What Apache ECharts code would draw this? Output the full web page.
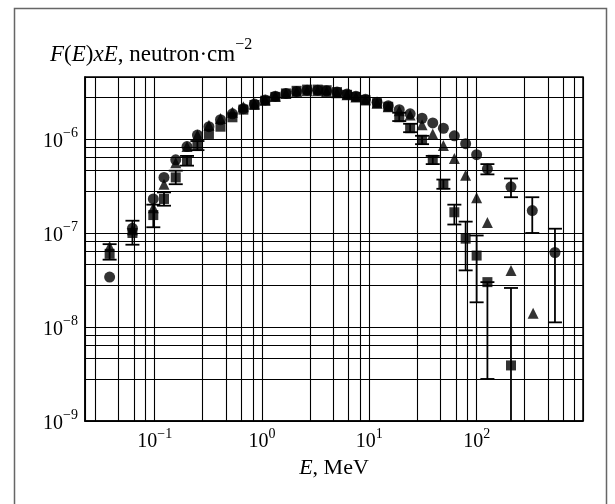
<!DOCTYPE html>
<html><head><meta charset="utf-8">
<script src="https://cdn.jsdelivr.net/npm/echarts@6/dist/echarts.min.js"></script>
<style>html,body{margin:0;padding:0;background:#fff}#c{width:615px;height:504px}</style>
</head><body><div id="c"></div><script>
// ---- data ----
const circleE = [0.038,0.062,0.097,0.122,0.157,0.2,0.25,0.32,0.41,0.53,0.67,0.85,1.07,1.33,1.67,2.1,2.63,3.3,4.0,5.0,6.2,7.5,9.2,11.8,15,19,24,31,39,49,62,79,100,126,209,330,537];
const circleF = [3.4e-8,1.12e-7,2.3e-7,3.9e-7,6.0e-7,8.3e-7,1.1e-6,1.35e-6,1.6e-6,1.85e-6,2.1e-6,2.35e-6,2.6e-6,2.85e-6,3.05e-6,3.2e-6,3.3e-6,3.3e-6,3.25e-6,3.15e-6,3.0e-6,2.85e-6,2.65e-6,2.45e-6,2.25e-6,2.05e-6,1.85e-6,1.66e-6,1.48e-6,1.3e-6,1.08e-6,8.9e-7,6.8e-7,4.8e-7,3.1e-7,1.73e-7,6.2e-8];

const squareE = [0.038,0.062,0.097,0.122,0.157,0.2,0.25,0.32,0.41,0.53,0.67,0.85,1.07,1.33,1.67,2.1,2.63,3.3,4.0,5.0,6.2,7.5,9.2,11.8,15,19,24,31,39,49,62,79,100,126,209];
const squareF = [6.0e-8,1.0e-7,1.55e-7,2.3e-7,3.9e-7,5.9e-7,8.5e-7,1.13e-6,1.35e-6,1.7e-6,2.05e-6,2.3e-6,2.55e-6,2.8e-6,3.05e-6,3.25e-6,3.35e-6,3.35e-6,3.3e-6,3.15e-6,2.95e-6,2.8e-6,2.6e-6,2.4e-6,2.2e-6,1.7e-6,1.3e-6,9.8e-7,6.0e-7,3.3e-7,1.66e-7,8.7e-8,5.75e-8,3.0e-8,3.9e-9];

const triE = [0.038,0.062,0.097,0.122,0.157,0.2,0.25,0.32,0.41,0.53,0.67,0.85,1.07,1.33,1.67,2.1,2.63,3.3,4.0,5.0,6.2,7.5,9.2,11.8,15,19,24,31,39,49,62,79,100,126,209,336];
const triF = [7.2e-8,1.08e-7,1.85e-7,3.3e-7,5.6e-7,8.3e-7,1.1e-6,1.4e-6,1.65e-6,1.92e-6,2.2e-6,2.35e-6,2.6e-6,2.85e-6,3.05e-6,3.2e-6,3.25e-6,3.25e-6,3.2e-6,3.1e-6,2.95e-6,2.8e-6,2.6e-6,2.4e-6,2.2e-6,2.0e-6,1.8e-6,1.42e-6,1.13e-6,8.5e-7,6.2e-7,4.1e-7,2.37e-7,1.29e-7,4.0e-8,1.4e-8];

// error bars: [E, low, high]
const squareErr = [[0.038,5.2e-8,7.6e-8],[0.062,7.5e-8,1.35e-7],[0.097,1.15e-7,2.0e-7],[0.122,1.95e-7,2.7e-7],[0.157,3.3e-7,4.6e-7],[0.2,5.2e-7,6.6e-7],[0.25,7.6e-7,9.5e-7],[19,1.55e-6,1.9e-6],[24,1.18e-6,1.45e-6],[31,8.8e-7,1.08e-6],[39,5.4e-7,6.6e-7],[49,2.95e-7,3.7e-7],[62,1.23e-7,2.0e-7],[79,4.0e-8,1.32e-7],[100,1.83e-8,9.4e-8],[126,2.8e-9,3.0e-8],[209,5e-10,2.6e-8]];
const circleErr = [[126,4.2e-7,5.4e-7],[209,2.4e-7,3.8e-7],[330,1.0e-7,2.4e-7],[537,1.12e-8,1.11e-7]];

const xLabelValues = [0.1,1,10,100];
const yLabelValues = [1e-9,1e-8,1e-7,1e-6];

const SERIF = 'Liberation Serif, Times New Roman, serif';
function labeler(allowed){
  return function(v){
    const e = Math.round(Math.log10(v));
    const ok = allowed.some(a => Math.abs(Math.log10(a) - Math.log10(v)) < 1e-6);
    if (!ok) return '';
    return '{b|10}{s|' + (e < 0 ? '\u2212' + (-e) : e) + '}';
  };
}
const richLbl = {
  b:{fontFamily:SERIF,fontSize:20,color:'#000',lineHeight:25,verticalAlign:'bottom'},
  s:{fontFamily:SERIF,fontSize:14,color:'#000',lineHeight:14,verticalAlign:'top'}
};
function pairs(xs, ys){ return xs.map((x,i)=>[x, ys[i]]); }

function errRender(params, api){
  const x = api.value(0), lo = api.value(1), hi = api.value(2);
  const a = api.coord([x, lo]), b = api.coord([x, hi]);
  const w = 7, st = {stroke:'#000', lineWidth:1.8};
  return {type:'group', children:[
    {type:'line', shape:{x1:a[0],y1:a[1],x2:b[0],y2:b[1]}, style:st},
    {type:'line', shape:{x1:a[0]-w,y1:a[1],x2:a[0]+w,y2:a[1]}, style:st},
    {type:'line', shape:{x1:b[0]-w,y1:b[1],x2:b[0]+w,y2:b[1]}, style:st}
  ]};
}

const chart = echarts.init(document.getElementById('c'), null, {renderer:'canvas'});
const gridLine = {show:true, lineStyle:{color:'#000', width:1.1}};
chart.setOption({
  animation:false,
  backgroundColor:'#fff',
  graphic:[{type:'rect', left:12, top:6, shape:{width:592, height:520}, style:{fill:'none', stroke:'#666', lineWidth:1.5}, silent:true}],
  title:{
    text:'{i|F}{n|(}{i|E}{n|)}{i|xE}{n|, neutron·cm}{s|−2}',
    left:45, top:32,
    textStyle:{fontWeight:'normal', rich:{
      i:{fontFamily:SERIF,fontStyle:'italic',fontWeight:'normal',fontSize:23,color:'#000',lineHeight:29,verticalAlign:'bottom'},
      n:{fontFamily:SERIF,fontWeight:'normal',fontSize:23,color:'#000',lineHeight:29,verticalAlign:'bottom'},
      s:{fontFamily:SERIF,fontWeight:'normal',fontSize:16,color:'#000',lineHeight:16,verticalAlign:'top'}
    }}
  },
  grid:{left:85, right:32, top:77, bottom:83, show:true, borderColor:'#000', borderWidth:1.5},
  xAxis:{
    type:'log', min:0.0224, max:980, logBase:10,
    name:'{i|E}{n|, MeV}', nameLocation:'middle', nameGap:34,
    nameTextStyle:{rich:{
      i:{fontFamily:SERIF,fontStyle:'italic',fontSize:22,color:'#000'},
      n:{fontFamily:SERIF,fontSize:22,color:'#000'}
    }},
    axisLine:{show:true, lineStyle:{color:'#000', width:1.5}},
    axisTick:{show:false},
    axisLabel:{formatter:labeler(xLabelValues), rich:richLbl, margin:6, showMinLabel:false, showMaxLabel:false},
    splitLine:gridLine,
    minorTick:{show:false, splitNumber:5},
    minorSplitLine:gridLine
  },
  yAxis:{
    type:'log', min:1e-9, max:4.56e-6, logBase:10,
    axisLine:{show:true, lineStyle:{color:'#000', width:1.5}},
    axisTick:{show:false},
    axisLabel:{formatter:labeler(yLabelValues), rich:richLbl, margin:7, showMaxLabel:false},
    splitLine:gridLine,
    minorTick:{show:false, splitNumber:5},
    minorSplitLine:gridLine
  },
  series:[
    {type:'custom', name:'sqErr', renderItem:errRender, data:squareErr, clip:true, z:3},
    {type:'custom', name:'cErr', renderItem:errRender, data:circleErr, clip:true, z:3},
    {type:'scatter', name:'triangles', symbol:'triangle', symbolSize:11, itemStyle:{color:'#000'}, data:pairs(triE,triF), z:4},
    {type:'scatter', name:'squares', symbol:'rect', symbolSize:10, itemStyle:{color:'#000'}, data:pairs(squareE,squareF), z:4},
    {type:'scatter', name:'circles', symbol:'circle', symbolSize:11, itemStyle:{color:'#000'}, data:pairs(circleE,circleF), z:5}
  ]
});
</script></body></html>
